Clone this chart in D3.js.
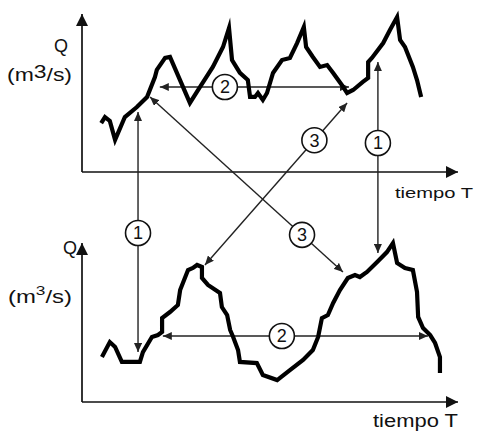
<!DOCTYPE html>
<html>
<head>
<meta charset="utf-8">
<script src="https://cdn.jsdelivr.net/npm/d3@7"></script>
<style>
  body { margin: 0; background: #fff; }
  text { font-family: Arial, "Liberation Sans", sans-serif; fill: #111; }
</style>
</head>
<body>
<div id="chart"></div>
<script>
// hydrograph upstream (top) : time and discharge
var timeTop = [5.1, 6.1, 7.4, 8.8, 11.4, 14.6, 17.3, 19.4, 19.9, 22.1, 23.4, 28.7, 31.4, 34.8, 37.5, 39.1, 39.9, 42.0, 44.1, 44.7, 46.0, 46.8, 48.1, 49.2, 50.8, 53.2, 55.3, 57.2, 59.0, 59.6, 61.4, 63.3, 65.2, 66.8, 69.1, 70.5, 72.1, 74.7, 76.1, 76.1, 77.1, 80.1, 81.9, 83.8, 84.6, 85.9, 88.0, 89.1, 90.2]
var qTop = [3.10, 3.48, 3.23, 2.03, 3.48, 4.11, 4.75, 6.01, 6.46, 7.22, 7.28, 4.37, 5.38, 6.65, 7.91, 9.11, 7.09, 6.27, 5.82, 4.75, 4.75, 5.00, 4.56, 5.00, 6.27, 7.09, 7.22, 8.16, 9.18, 7.91, 7.28, 6.65, 6.77, 6.27, 5.51, 5.00, 5.19, 5.70, 5.95, 6.96, 7.22, 8.16, 8.99, 9.81, 8.35, 7.91, 6.65, 5.82, 4.75]

// hydrograph downstream (bottom)
var timeBottom = [5.3, 7.4, 8.8, 10.6, 15.4, 16.2, 18.6, 20.2, 21.3, 21.3, 23.4, 25.5, 26.1, 28.2, 29.5, 30.6, 31.9, 31.9, 33.5, 36.7, 37.2, 38.6, 39.4, 40.2, 41.5, 42.0, 46.5, 48.1, 51.9, 55.3, 58.8, 61.4, 62.8, 63.8, 65.4, 66.8, 68.6, 70.7, 72.6, 73.9, 75.8, 78.5, 81.1, 82.7, 83.8, 85.9, 88.0, 89.1, 89.4, 90.7, 92.6, 93.9, 95.2, 95.2]
var qBottom = [2.83, 3.77, 3.46, 2.52, 2.52, 3.14, 4.09, 4.21, 4.40, 5.28, 5.66, 6.10, 7.04, 8.30, 8.43, 8.62, 8.49, 7.80, 7.36, 6.86, 5.97, 5.47, 4.53, 4.09, 3.27, 2.52, 2.45, 1.70, 1.38, 2.01, 2.64, 3.27, 4.09, 5.28, 5.47, 6.23, 7.04, 7.80, 7.99, 7.86, 8.18, 8.81, 9.43, 10.0, 8.74, 8.43, 8.30, 6.92, 5.35, 4.65, 4.21, 3.71, 2.83, 1.82]

// double arrows linking both hydrographs (panel, time, Q at each end)
var arrowLabels = ['1', '1', '2', '2', '3', '3']
var fromPanel = ['top', 'top', 'top', 'bottom', 'top', 'top']
var fromT = [14.9, 78.7, 20.7, 21.5, 70.5, 18.1]
var fromQ = [3.80, 6.96, 5.38, 4.15, 4.37, 4.75]
var toPanel = ['bottom', 'bottom', 'top', 'bottom', 'bottom', 'bottom']
var toT = [14.9, 78.7, 71.0, 92.0, 32.7, 69.4]
var toQ = [3.14, 9.37, 5.38, 4.15, 8.62, 8.18]
var labelAt = [0.504, 0.424, 0.344, 0.449, 0.23, 0.788]

var width = 477, height = 433

var svg = d3.select("#chart").append("svg")
  .attr("width", width)
  .attr("height", height)

var x = d3.scaleLinear().domain([0, 100]).range([82, 458])
var y = {
  top: d3.scaleLinear().domain([0, 10]).range([172, 14]),
  bottom: d3.scaleLinear().domain([0, 10]).range([402, 243])
}

var defs = svg.append("defs")
defs.append("marker")
  .attr("id", "axisHead")
  .attr("viewBox", "0 0 12 12")
  .attr("refX", 12).attr("refY", 6)
  .attr("markerUnits", "userSpaceOnUse")
  .attr("markerWidth", 12).attr("markerHeight", 12)
  .attr("orient", "auto")
  .append("path").attr("d", "M0,0 L12,6 L0,12 Z").attr("fill", "#111")
defs.append("marker")
  .attr("id", "head")
  .attr("viewBox", "0 0 9 8")
  .attr("refX", 9).attr("refY", 4)
  .attr("markerUnits", "userSpaceOnUse")
  .attr("markerWidth", 9).attr("markerHeight", 8)
  .attr("orient", "auto-start-reverse")
  .append("path").attr("d", "M0,0 L9,4 L0,8 Z").attr("fill", "#222")

// axes with arrow tips
;['top', 'bottom'].forEach(function(p) {
  var yy = y[p]
  svg.append("line")
    .attr("x1", x(0)).attr("y1", yy(0)).attr("x2", x(0)).attr("y2", yy(10))
    .attr("stroke", "#111").attr("stroke-width", 1.7)
    .attr("marker-end", "url(#axisHead)")
  svg.append("line")
    .attr("x1", x(0)).attr("y1", yy(0)).attr("x2", x(100)).attr("y2", yy(0))
    .attr("stroke", "#111").attr("stroke-width", 1.7)
    .attr("marker-end", "url(#axisHead)")
})

// arrows first so the curves sit on top of them
var arrows = arrowLabels.map(function(l, i) {
  return {
    label: l,
    x1: x(fromT[i]), y1: y[fromPanel[i]](fromQ[i]),
    x2: x(toT[i]), y2: y[toPanel[i]](toQ[i]),
    at: labelAt[i]
  }
})

svg.selectAll("line.arrow")
  .data(arrows)
  .enter()
  .append("line")
  .attr("class", "arrow")
  .attr("x1", function(d) { return d.x1 })
  .attr("y1", function(d) { return d.y1 })
  .attr("x2", function(d) { return d.x2 })
  .attr("y2", function(d) { return d.y2 })
  .attr("stroke", "#222")
  .attr("stroke-width", 1.4)
  .attr("marker-start", "url(#head)")
  .attr("marker-end", "url(#head)")

// hydrograph lines
var lineTop = d3.line()
  .x(function(d, i) { return x(timeTop[i]) })
  .y(function(d) { return y.top(d) })
var lineBottom = d3.line()
  .x(function(d, i) { return x(timeBottom[i]) })
  .y(function(d) { return y.bottom(d) })

svg.append("path")
  .attr("d", lineTop(qTop))
  .attr("fill", "none").attr("stroke", "#000")
  .attr("stroke-width", 4.2).attr("stroke-linejoin", "miter").attr("stroke-miterlimit", 6)
svg.append("path")
  .attr("d", lineBottom(qBottom))
  .attr("fill", "none").attr("stroke", "#000")
  .attr("stroke-width", 4.2).attr("stroke-linejoin", "miter").attr("stroke-miterlimit", 6)

// circled numbers
var labels = svg.selectAll("g.lab")
  .data(arrows)
  .enter()
  .append("g")
  .attr("class", "lab")
  .attr("transform", function(d) {
    return "translate(" + (d.x1 + (d.x2 - d.x1) * d.at) + "," + (d.y1 + (d.y2 - d.y1) * d.at) + ")"
  })
labels.append("circle")
  .attr("r", 12.5)
  .attr("fill", "#fff")
  .attr("stroke", "#111")
  .attr("stroke-width", 1.6)
labels.append("text")
  .attr("text-anchor", "middle")
  .attr("dy", "0.36em")
  .style("font-size", "18px")
  .text(function(d) { return d.label })

// axis titles
svg.append("text").attr("x", 68).attr("y", 52).attr("text-anchor", "end")
  .style("font-size", "18px").text("Q")
var u1 = svg.append("text").attr("x", 7).attr("y", 81)
  .attr("textLength", 65).attr("lengthAdjust", "spacingAndGlyphs")
  .style("font-size", "18px")
u1.append("tspan").text("(m")
u1.append("tspan").attr("dy", -3).text("3")
u1.append("tspan").attr("dy", 3).text("/s)")
svg.append("text").attr("x", 395).attr("y", 198)
  .attr("textLength", 78).attr("lengthAdjust", "spacingAndGlyphs")
  .style("font-size", "15px").text("tiempo T")

svg.append("text").attr("x", 77).attr("y", 254).attr("text-anchor", "end")
  .style("font-size", "18px").text("Q")
var u2 = svg.append("text").attr("x", 8).attr("y", 303)
  .attr("textLength", 64).attr("lengthAdjust", "spacingAndGlyphs")
  .style("font-size", "18px")
u2.append("tspan").text("(m")
u2.append("tspan").attr("dy", -8).style("font-size", "13px").text("3")
u2.append("tspan").attr("dy", 8).text("/s)")
svg.append("text").attr("x", 373).attr("y", 427)
  .attr("textLength", 85).attr("lengthAdjust", "spacingAndGlyphs")
  .style("font-size", "18px").text("tiempo T")
</script>
</body>
</html>
